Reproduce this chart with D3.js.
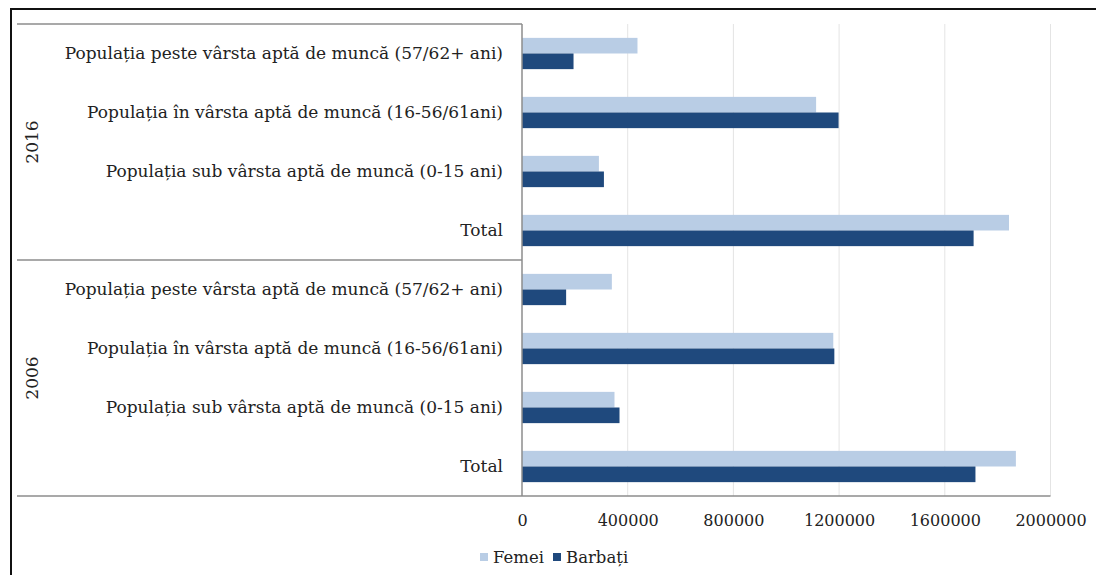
<!DOCTYPE html>
<html>
<head>
<meta charset="utf-8">
<script src="https://cdn.jsdelivr.net/npm/d3@7"></script>
<style>
  body { margin: 0; background: #fff; }
  svg text { font-family: "DejaVu Serif", serif; fill: #222; }
</style>
</head>
<body>
<svg id="chart" width="1096" height="575"></svg>
<script>
// data
let years = ["2016", "2006"];
let categories = [
    "Populația peste vârsta aptă de muncă (57/62+ ani)",
    "Populația în vârsta aptă de muncă (16-56/61ani)",
    "Populația sub vârsta aptă de muncă (0-15 ani)",
    "Total"
];
let series = ["Femei", "Barbați"];
let femei2016 = [437000, 1113000, 291000, 1843000];
let barbati2016 = [195000, 1198000, 310000, 1709000];
let femei2006 = [340000, 1178000, 350000, 1869000];
let barbati2006 = [167000, 1182000, 369000, 1716000];
let xTicks = [0, 400000, 800000, 1200000, 1600000, 2000000];

let colors = { "Femei": "#b9cde5", "Barbați": "#1f497d" };

let values = {
    "2016": [femei2016, barbati2016],
    "2006": [femei2006, barbati2006]
};

// rows top to bottom
let rows = [];
years.forEach(function(yr) {
    categories.forEach(function(c, i) {
        rows.push({ key: yr + "|" + i, year: yr, cat: c, vals: series.map(function(s, k) { return { s: s, v: values[yr][k][i] }; }) });
    });
});

let svg = d3.select("#chart");

let plotLeft = 522, plotRight = 1050.5, plotTop = 24, plotBottom = 496;

let x = d3.scaleLinear().domain([0, 2000000]).range([plotLeft, plotRight]);

let y = d3.scaleBand()
    .domain(rows.map(function(d) { return d.key; }))
    .range([plotTop, plotBottom])
    .paddingInner(0.47)
    .paddingOuter(0.235);

let yInner = d3.scaleBand().domain(series).range([0, y.bandwidth()]);

//outer frame
svg.append("path")
    .attr("d", `M11,575V9H1096`)
    .attr("fill", "none")
    .attr("stroke", "#111")
    .attr("stroke-width", 2);

//gridlines
svg.append("g")
    .selectAll("line")
    .data(xTicks.filter(function(t) { return t > 0; }))
    .enter()
    .append("line")
    .attr("x1", function(d) { return x(d); })
    .attr("x2", function(d) { return x(d); })
    .attr("y1", plotTop)
    .attr("y2", plotBottom)
    .attr("stroke", "#e4e4e4")
    .attr("stroke-width", 1);

//bars
let groups = svg.append("g")
    .selectAll("g")
    .data(rows)
    .enter()
    .append("g")
    .attr("transform", function(d) { return `translate(0,${y(d.key)})`; });

groups.selectAll("rect")
    .data(function(d) { return d.vals; })
    .enter()
    .append("rect")
    .attr("x", x(0))
    .attr("y", function(d) { return yInner(d.s); })
    .attr("width", function(d) { return x(d.v) - x(0); })
    .attr("height", yInner.bandwidth())
    .attr("fill", function(d) { return colors[d.s]; });

//category labels
svg.append("g")
    .selectAll("text")
    .data(rows)
    .enter()
    .append("text")
    .attr("x", 503)
    .attr("y", function(d) { return y(d.key) + y.bandwidth() / 2; })
    .attr("dy", "0.35em")
    .attr("text-anchor", "end")
    .style("font-size", "17px")
    .text(function(d) { return d.cat; });

//year labels
let step = y.step();
svg.append("g")
    .selectAll("text")
    .data(years)
    .enter()
    .append("text")
    .attr("transform", function(d, i) { return `translate(32,${plotTop + step * 4 * i + step * 2}) rotate(-90)`; })
    .attr("dy", "0.35em")
    .attr("text-anchor", "middle")
    .style("font-size", "17px")
    .text(function(d) { return d; });

//category axis lines
let axisCol = "#8c8c8c";
svg.append("g")
    .selectAll("line")
    .data([0, 4])
    .enter()
    .append("line")
    .attr("x1", 17)
    .attr("x2", plotLeft)
    .attr("y1", function(d) { return plotTop + step * d; })
    .attr("y2", function(d) { return plotTop + step * d; })
    .attr("stroke", axisCol)
    .attr("stroke-width", 1.5);

svg.append("line")
    .attr("x1", plotLeft).attr("x2", plotLeft)
    .attr("y1", plotTop).attr("y2", plotBottom)
    .attr("stroke", axisCol)
    .attr("stroke-width", 1.5);

//x axis
let xAxis = svg.append("g")
    .attr("transform", `translate(0,${plotBottom})`)
    .call(d3.axisBottom(x).tickValues(xTicks).tickFormat(d3.format("d")).tickSize(0).tickPadding(19));

xAxis.select(".domain").remove();
xAxis.selectAll("text")
    .style("font-size", "16px")
    .attr("fill", "#222");

svg.append("line")
    .attr("x1", 17).attr("x2", plotRight)
    .attr("y1", plotBottom).attr("y2", plotBottom)
    .attr("stroke", axisCol)
    .attr("stroke-width", 1.5);

//legend
let legend = svg.append("g").attr("transform", "translate(480,557)");
let legX = [0, 73];
let items = legend.selectAll("g")
    .data(series)
    .enter()
    .append("g")
    .attr("transform", function(d, i) { return `translate(${legX[i]},0)`; });

items.append("rect")
    .attr("x", 0).attr("y", -4)
    .attr("width", 8).attr("height", 8)
    .attr("fill", function(d) { return colors[d]; });

items.append("text")
    .attr("x", 13)
    .attr("dy", "0.35em")
    .style("font-size", "16.5px")
    .text(function(d) { return d; });
</script>
</body>
</html>
